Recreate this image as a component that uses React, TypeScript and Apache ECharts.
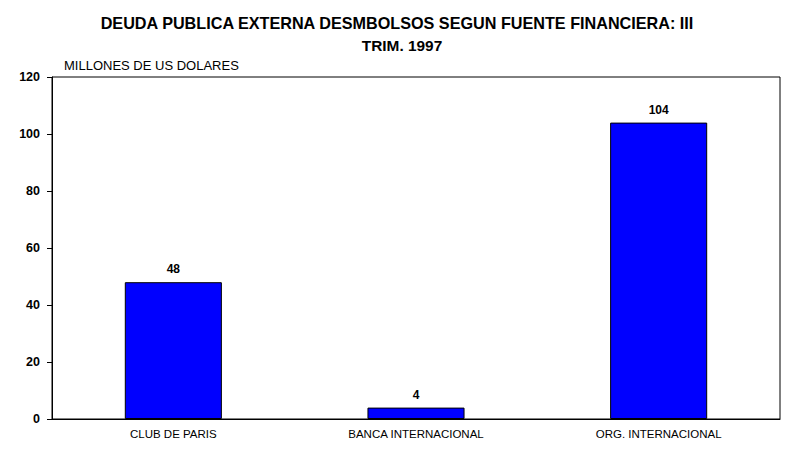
import React, { useEffect, useRef } from "react";
import * as echarts from "echarts";

const categories = ["CLUB DE PARIS", "BANCA INTERNACIONAL", "ORG. INTERNACIONAL"];
const values = [48, 4, 104];
const yTicks = { min: 0, max: 120, interval: 20 };
const titleLines = ["DEUDA PUBLICA EXTERNA DESMBOLSOS SEGUN FUENTE FINANCIERA: III", "TRIM. 1997"];
const unitLabel = "MILLONES DE US DOLARES";

export default function App() {
  const ref = useRef<HTMLDivElement>(null);
  useEffect(() => {
    document.body.style.margin = "0";
    const chart = echarts.init(ref.current!, null, { renderer: "svg" });
    chart.setOption({
      animation: false,
      backgroundColor: "#ffffff",
      textStyle: { fontFamily: "Liberation Sans" },
      graphic: [
        {
          type: "text",
          x: 397,
          y: 23,
          style: {
            text: titleLines[0],
            fill: "#000",
            font: "bold 16.2px 'Liberation Sans'",
            textAlign: "center",
            textVerticalAlign: "middle",
          },
        },
        {
          type: "text",
          x: 402,
          y: 45,
          style: {
            text: titleLines[1],
            fill: "#000",
            font: "bold 15.4px 'Liberation Sans'",
            textAlign: "center",
            textVerticalAlign: "middle",
          },
        },
        {
          type: "text",
          x: 64,
          y: 65,
          style: {
            text: unitLabel,
            fill: "#000",
            font: "13px 'Liberation Sans'",
            textAlign: "left",
            textVerticalAlign: "middle",
          },
        },
      ],
      grid: { left: 52, right: 24, top: 77, bottom: 30, show: true, borderColor: "#000", borderWidth: 1 },
      xAxis: {
        type: "category",
        data: categories,
        axisLine: { show: true, lineStyle: { color: "#000", width: 1 } },
        axisTick: { show: false },
        axisLabel: { color: "#000", fontSize: 11.5, margin: 9, fontFamily: "Liberation Sans" },
      },
      yAxis: {
        type: "value",
        min: yTicks.min,
        max: yTicks.max,
        interval: yTicks.interval,
        axisLine: { show: true, lineStyle: { color: "#000", width: 1 } },
        axisTick: { show: true, length: 5, lineStyle: { color: "#000" } },
        splitLine: { show: false },
        axisLabel: { color: "#000", fontSize: 12.5, fontWeight: "bold", margin: 12, fontFamily: "Liberation Sans" },
      },
      series: [
        {
          type: "bar",
          data: values,
          barWidth: "40%",
          itemStyle: { color: "#0000ff", borderColor: "#000", borderWidth: 1 },
          label: {
            show: true,
            position: "top",
            distance: 7,
            color: "#000",
            fontSize: 12,
            fontWeight: "bold",
            fontFamily: "Liberation Sans",
          },
        },
      ],
    });
    return () => chart.dispose();
  }, []);
  return <div ref={ref} style={{ width: 804, height: 449 }} />;
}
